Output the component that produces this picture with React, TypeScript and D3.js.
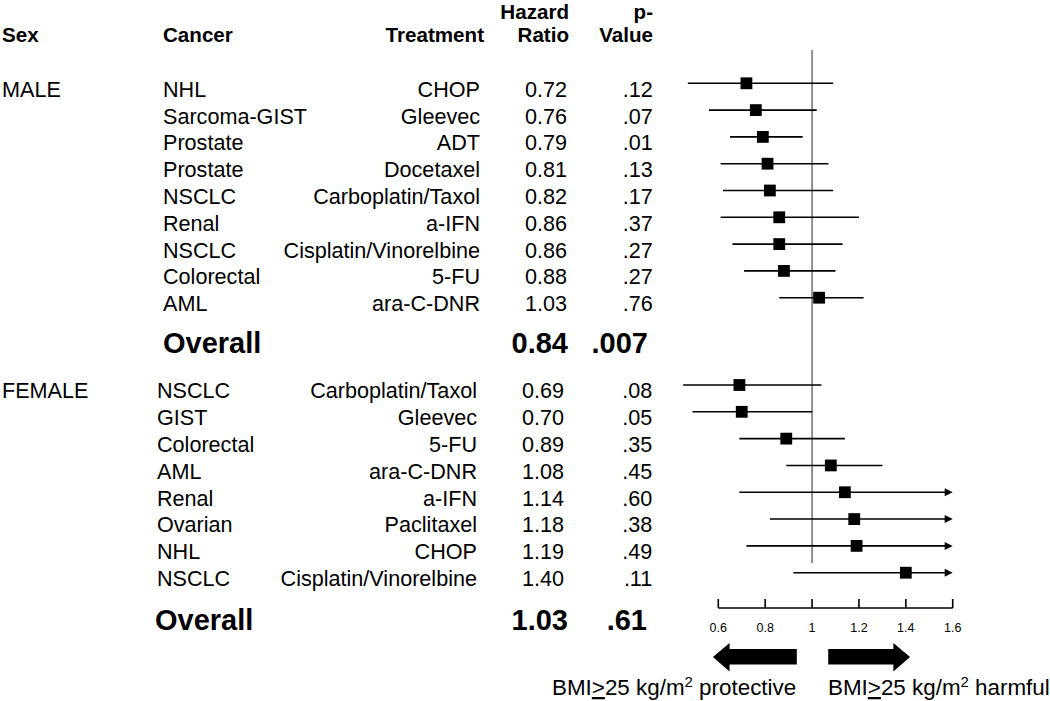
import React from "react";
import * as d3 from "d3";

const maleCancer = ["NHL", "Sarcoma-GIST", "Prostate", "Prostate", "NSCLC", "Renal", "NSCLC", "Colorectal", "AML"];
const maleTreatment = ["CHOP", "Gleevec", "ADT", "Docetaxel", "Carboplatin/Taxol", "a-IFN", "Cisplatin/Vinorelbine", "5-FU", "ara-C-DNR"];
const maleHR = [0.72, 0.76, 0.79, 0.81, 0.82, 0.86, 0.86, 0.88, 1.03];
const maleP = [".12", ".07", ".01", ".13", ".17", ".37", ".27", ".27", ".76"];
const maleLo = [0.47, 0.56, 0.65, 0.61, 0.62, 0.61, 0.66, 0.71, 0.86];
const maleHi: (number | null)[] = [1.09, 1.02, 0.96, 1.07, 1.09, 1.2, 1.13, 1.1, 1.22];
const maleOverall = { hr: "0.84", p: ".007" };

const femaleCancer = ["NSCLC", "GIST", "Colorectal", "AML", "Renal", "Ovarian", "NHL", "NSCLC"];
const femaleTreatment = ["Carboplatin/Taxol", "Gleevec", "5-FU", "ara-C-DNR", "a-IFN", "Paclitaxel", "CHOP", "Cisplatin/Vinorelbine"];
const femaleHR = [0.69, 0.7, 0.89, 1.08, 1.14, 1.18, 1.19, 1.4];
const femaleP = [".08", ".05", ".35", ".45", ".60", ".38", ".49", ".11"];
const femaleLo = [0.45, 0.49, 0.69, 0.89, 0.69, 0.82, 0.72, 0.92];
// null = upper limit beyond the axis (drawn with an arrow)
const femaleHi: (number | null)[] = [1.04, 1.0, 1.14, 1.3, null, null, null, null];
const femaleOverall = { hr: "1.03", p: ".61" };

const xTicks = [0.6, 0.8, 1, 1.2, 1.4, 1.6];

const FONT = "'Liberation Sans', Arial, Helvetica, sans-serif";

export default function App() {
  const x = d3.scaleLinear().domain([0.6, 1.6]).range([718.3, 952.7]);
  const yMale = d3.scaleLinear().domain([0, 8]).range([83.3, 297.7]);
  const yFemale = d3.scaleLinear().domain([0, 7]).range([385, 572.7]);
  const axisY = 608;
  const sq = 11.8;

  const fs = 21.6;

  const renderRows = (
    cancer: string[],
    treat: string[],
    hr: number[],
    p: string[],
    lo: number[],
    hi: (number | null)[],
    y: d3.ScaleLinear<number, number>,
    cols: { cancer: number; treat: number; hr: number; p: number }
  ) =>
    cancer.map((c, i) => {
      const yy = y(i);
      const tb = yy + 13.4;
      const hiV = hi[i];
      const x2 = hiV === null ? x(1.6) : x(hiV);
      return (
        <g key={i}>
          <text x={cols.cancer} y={tb} fontSize={fs}>{c}</text>
          <text x={cols.treat} y={tb} fontSize={fs} textAnchor="end">{treat[i]}</text>
          <text x={cols.hr} y={tb} fontSize={fs} textAnchor="end">{hr[i].toFixed(2)}</text>
          <text x={cols.p} y={tb} fontSize={fs} textAnchor="end">{p[i]}</text>
          <line x1={x(lo[i])} x2={hiV === null ? x2 - 6 : x2} y1={yy} y2={yy} stroke="#000" strokeWidth={1.6} />
          {hiV === null && (
            <path d={`M${x2},${yy} L${x2 - 8},${yy - 4} L${x2 - 8},${yy + 4} Z`} fill="#000" />
          )}
          <rect x={x(hr[i]) - sq / 2} y={yy - sq / 2} width={sq} height={sq} fill="#000" />
        </g>
      );
    });

  const arrowY = 657;
  const leftArrow = (() => {
    const tip = x(0.577), base = x(0.648), end = x(0.935);
    return `M${tip},${arrowY} L${base},${arrowY - 14} L${base},${arrowY - 8} L${end},${arrowY - 8} L${end},${arrowY + 7.5} L${base},${arrowY + 7.5} L${base},${arrowY + 14.5} Z`;
  })();
  const rightArrow = (() => {
    const tip = x(1.418), base = x(1.347), start = x(1.069);
    return `M${tip},${arrowY} L${base},${arrowY - 14} L${base},${arrowY - 8} L${start},${arrowY - 8} L${start},${arrowY + 7.5} L${base},${arrowY + 7.5} L${base},${arrowY + 14.5} Z`;
  })();

  const legendLabel = (lx: number, word: string) => (
    <text x={lx} y={695} fontSize={22.4}>
      BMI
      <tspan textDecoration="underline">&gt;</tspan>
      25 kg/m
      <tspan fontSize={15} dy={-8}>2</tspan>
      <tspan dy={8}>{" " + word}</tspan>
    </text>
  );

  return (
    <svg
      width={1050}
      height={701}
      style={{ position: "absolute", left: 0, top: 0, background: "#fff" }}
      fontFamily={FONT}
      fill="#000"
    >
      <rect width={1050} height={701} fill="#fff" />
      {/* headers */}
      <g fontWeight="bold" fontSize={20.6}>
        <text x={2} y={41.7}>Sex</text>
        <text x={163} y={41.7}>Cancer</text>
        <text x={484} y={41.7} textAnchor="end">Treatment</text>
        <text x={569} y={18.8} textAnchor="end">Hazard</text>
        <text x={569} y={41.9} textAnchor="end">Ratio</text>
        <text x={653} y={18.8} textAnchor="end">p-</text>
        <text x={653} y={41.9} textAnchor="end">Value</text>
      </g>

      {/* reference line */}
      <line x1={x(1)} x2={x(1)} y1={50} y2={563} stroke="#777" strokeWidth={1.6} />

      <text x={2} y={96.7} fontSize={fs}>MALE</text>
      {renderRows(maleCancer, maleTreatment, maleHR, maleP, maleLo, maleHi, yMale, { cancer: 163, treat: 480, hr: 567, p: 652.7 })}
      <g fontWeight="bold" fontSize={29}>
        <text x={163} y={353.3}>Overall</text>
        <text x={568} y={353.3} textAnchor="end">{maleOverall.hr}</text>
        <text x={648} y={353.3} textAnchor="end">{maleOverall.p}</text>
      </g>

      <text x={2} y={398.3} fontSize={fs}>FEMALE</text>
      {renderRows(femaleCancer, femaleTreatment, femaleHR, femaleP, femaleLo, femaleHi, yFemale, { cancer: 157, treat: 477, hr: 564, p: 652.3 })}
      <g fontWeight="bold" fontSize={29}>
        <text x={155} y={630}>Overall</text>
        <text x={568} y={630} textAnchor="end">{femaleOverall.hr}</text>
        <text x={647} y={630} textAnchor="end">{femaleOverall.p}</text>
      </g>

      {/* axis */}
      <line x1={x(0.6)} x2={x(1.6)} y1={axisY} y2={axisY} stroke="#000" strokeWidth={1.6} />
      {xTicks.map((t) => (
        <g key={t}>
          <line x1={x(t)} x2={x(t)} y1={axisY} y2={axisY - 9} stroke="#000" strokeWidth={1.6} />
          <text x={x(t)} y={631.7} fontSize={12.5} textAnchor="middle">{String(t)}</text>
        </g>
      ))}

      {/* legend arrows */}
      <path d={leftArrow} fill="#000" />
      <path d={rightArrow} fill="#000" />
      {legendLabel(552, "protective")}
      {legendLabel(828, "harmful")}
    </svg>
  );
}
